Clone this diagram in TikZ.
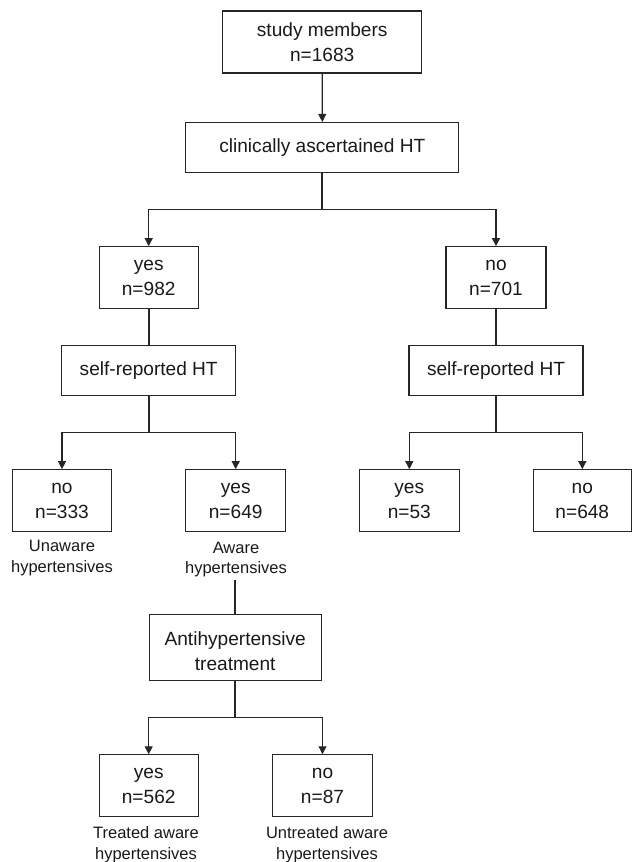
\documentclass[tikz,border=0pt]{standalone}
\usepackage{fontspec}
\setmainfont{Liberation Sans}
\usetikzlibrary{arrows.meta}
\begin{document}
\begin{tikzpicture}[x=1pt,y=-1pt,
  box/.style={draw=black!85,line width=1.1pt,inner sep=0pt,align=center,
    font=\fontsize{19.1}{25}\selectfont,text=black!90},
  lbl/.style={inner sep=0pt,align=center,font=\fontsize{16.5}{20.5}\selectfont,text=black!90},
  stem/.style={draw=black!85,line width=1.7pt},
  arr/.style={draw=black!85,line width=1.1pt,-{Triangle[length=8pt,width=8pt]}}]
\useasboundingbox (0,0) rectangle (632,862);
% boxes
\node[box,minimum width=199pt,minimum height=62pt] (study) at (322.2,42) {study members\\n=1683};
\node[box,minimum width=273pt,minimum height=50pt] (clin) at (322.3,147.5) {clinically ascertained HT};
\node[box,minimum width=99pt,minimum height=62pt] (yes1) at (148.7,277.7) {yes\\n=982};
\node[box,minimum width=100pt,minimum height=62pt] (no1) at (496,277.7) {no\\n=701};
\node[box,minimum width=174pt,minimum height=50pt] (srL) at (148.7,370.5) {self-reported HT};
\node[box,minimum width=174pt,minimum height=50pt] (srR) at (496,370.5) {self-reported HT};
\node[box,minimum width=99pt,minimum height=62pt] (no333) at (62,500.7) {no\\n=333};
\node[box,minimum width=100pt,minimum height=62pt] (yes649) at (235.7,500.7) {yes\\n=649};
\node[box,minimum width=100pt,minimum height=62pt] (yes53) at (409.3,500.7) {yes\\n=53};
\node[box,minimum width=98pt,minimum height=62pt] (no648) at (582.3,500.7) {no\\n=648};
\node[lbl] (unaware) at (62,558) {Unaware\\hypertensives};
\node[lbl] (aware) at (236,559.5) {Aware\\hypertensives};
\node[box,minimum width=172pt,minimum height=66pt] (anti) at (235.2,647.8)
  {\raisebox{-5.5pt}[\height][\depth]{\begin{tabular}{@{}c@{}}Antihypertensive\\treatment\end{tabular}}};
\node[box,minimum width=99pt,minimum height=62pt] (yes562) at (148.7,785.8) {yes\\n=562};
\node[box,minimum width=100pt,minimum height=62pt] (no87) at (322.5,785.8) {no\\n=87};
\node[lbl] (treated) at (146,844.5) {Treated aware\\hypertensives};
\node[lbl] (untreated) at (327,844.5) {Untreated aware\\hypertensives};
% branch points
\coordinate (b1) at (322.3,209.3);
\coordinate (b2) at (148.7,432.7);
\coordinate (b3) at (496,432.7);
\coordinate (b4) at (235.2,717.3);
% connectors
\draw[arr] (study) -- (clin);
\draw[stem] (clin) -- (b1);
\draw[arr] (b1) -| (yes1);
\draw[arr] (b1) -| (no1);
\draw[stem] (yes1) -- (srL);
\draw[stem] (no1) -- (srR);
\draw[stem] (srL) -- (b2);
\draw[arr] (b2) -| (no333);
\draw[arr] (b2) -| (yes649);
\draw[stem] (srR) -- (b3);
\draw[arr] (b3) -| (yes53);
\draw[arr] (b3) -| (no648);
\draw[stem] ([yshift=-3pt]aware.south -| anti.north) -- (anti.north);
\draw[stem] (anti) -- (b4);
\draw[arr] (b4) -| (yes562);
\draw[arr] (b4) -| (no87);
\end{tikzpicture}
\end{document}
